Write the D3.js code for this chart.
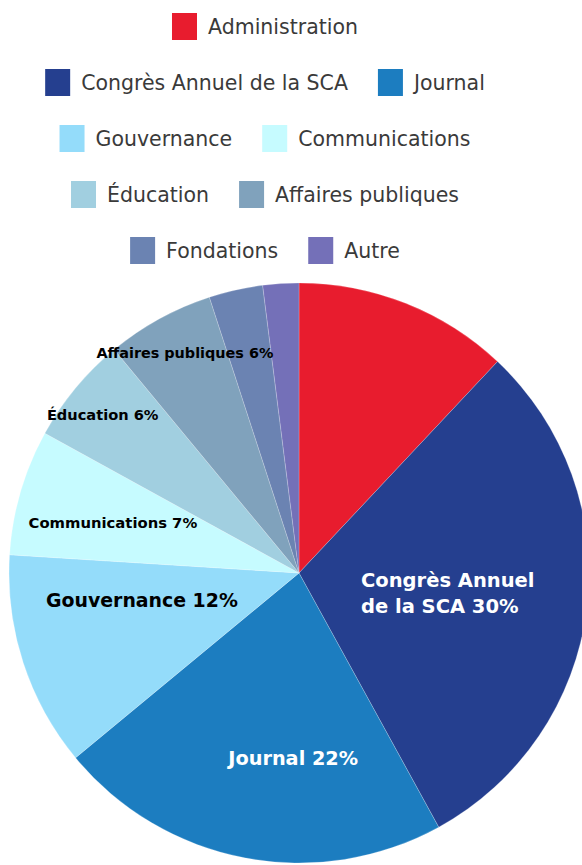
<!DOCTYPE html>
<html>
<head>
<meta charset="utf-8">
<script src="https://cdn.jsdelivr.net/npm/d3@7"></script>
<style>
  body { margin: 0; background: #fff; }
  svg { display: block; }
  text { font-family: "DejaVu Sans", sans-serif; }
</style>
</head>
<body>
<svg id="chart" width="582" height="865"></svg>
<script>
// data
const categories = ['Administration', 'Congrès Annuel de la SCA', 'Journal', 'Gouvernance',
    'Communications', 'Éducation', 'Affaires publiques', 'Fondations', 'Autre'];
const shares = [12, 30, 22, 12, 7, 6, 6, 3, 2];
const colors = ['#e81c2e', '#253f8f', '#1c7dc0', '#94dcfa', '#c6fbff', '#a1cfe0', '#80a2bc', '#6b83b2', '#7470b8'];
const sliceLabels = ['', 'Congrès Annuel\nde la SCA 30%', 'Journal 22%', 'Gouvernance 12%',
    'Communications 7%', 'Éducation 6%', 'Affaires publiques 6%', '', ''];
const legendRows = [[0], [1, 2], [3, 4], [5, 6], [7, 8]];

let svg = d3.select('#chart');
let cx = 299, cy = 573, r = 290;

let pie = d3.pie().sort(null).value(d => d)(shares);
let arc = d3.arc().innerRadius(0).outerRadius(r);

let g = svg.append('g').attr('transform', 'translate(' + cx + ',' + cy + ')');
g.selectAll('path')
    .data(pie)
    .enter().append('path')
    .attr('d', arc)
    .attr('fill', (d, i) => colors[i])
    .attr('stroke', 'rgba(255,255,255,0.35)')
    .attr('stroke-width', 0.6);

// label placement: radius factor, size, colour, anchor, angle tweak (deg)
let labelStyle = [
    null,
    {rf: 0.48, size: 19.5, fill: '#fff', anchor: 'start', da: 1},
    {rf: 0.64, size: 19.3, fill: '#fff', anchor: 'middle', da: -9},
    {rf: 0.55, size: 18.9, fill: '#000', anchor: 'middle', da: 8},
    {rf: 0.665, size: 14.8, fill: '#000', anchor: 'middle', da: -1},
    {rf: 0.87, size: 14.6, fill: '#000', anchor: 'middle', da: -0.7},
    {rf: 0.855, size: 14.4, fill: '#000', anchor: 'middle', da: 1.4},
    null, null
];

pie.forEach((d, i) => {
    let s = labelStyle[i];
    if(!s) return;
    let a = (d.startAngle + d.endAngle) / 2 + s.da * Math.PI / 180;
    let x = Math.sin(a) * r * s.rf;
    let y = -Math.cos(a) * r * s.rf;
    let lines = sliceLabels[i].split('\n');
    if(s.anchor == 'start') x = 62;
    let lh = 1.35;
    let t = g.append('text')
        .attr('x', x)
        .attr('y', y)
        .attr('text-anchor', s.anchor)
        .attr('fill', s.fill)
        .attr('font-size', s.size)
        .attr('font-weight', 'bold');
    lines.forEach((l, k) => {
        t.append('tspan')
            .attr('x', x)
            .attr('dy', k == 0 ? (0.35 - (lines.length - 1) * lh / 2) + 'em' : lh + 'em')
            .text(l);
    });
});

// legend
let legendCenter = 265, rowTop = 26.5, rowStep = 56;
let sw = 25, sh = 27, gapText = 11, gapItem = 30;
legendRows.forEach((row, ri) => {
    let rowG = svg.append('g');
    let x = 0;
    row.forEach(ci => {
        rowG.append('rect')
            .attr('x', x).attr('y', -sh / 2)
            .attr('width', sw).attr('height', sh)
            .attr('fill', colors[ci]);
        let t = rowG.append('text')
            .attr('x', x + sw + gapText)
            .attr('y', 0)
            .attr('dy', '0.35em')
            .attr('font-size', 20.5)
            .attr('fill', '#3a3a3a')
            .text(categories[ci]);
        x += sw + gapText + t.node().getComputedTextLength() + gapItem;
    });
    let w = x - gapItem;
    rowG.attr('transform', 'translate(' + (legendCenter - w / 2) + ',' + (rowTop + ri * rowStep) + ')');
});
</script>
</body>
</html>
